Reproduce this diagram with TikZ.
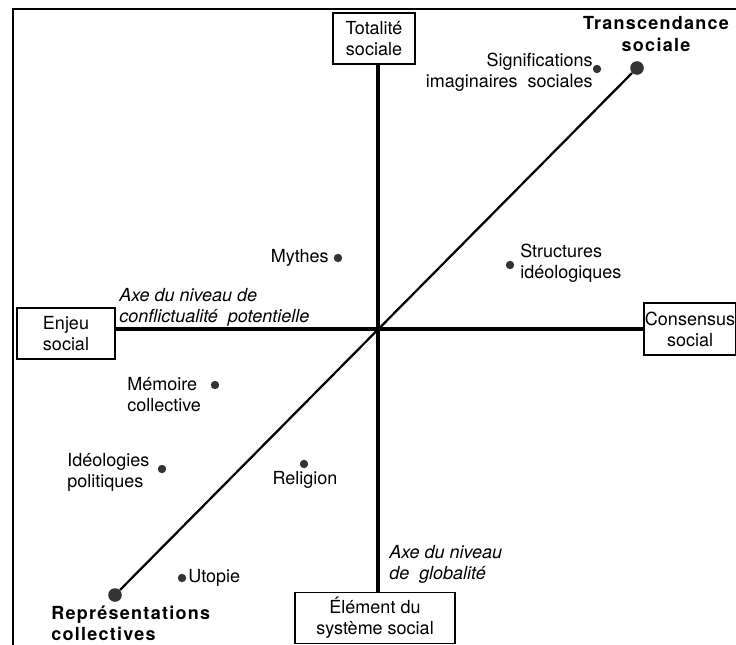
\documentclass[tikz,border=0pt]{standalone}
\usepackage{fontspec}
\setmainfont{TeX Gyre Heros}
\usepackage{tikz}
\usetikzlibrary{calc,positioning}
\newcommand{\txtsize}{\fontsize{12.8}{15}\selectfont}
\newcommand{\spacedbf}{\bfseries\addfontfeature{LetterSpace=7}}

\begin{document}
\begin{tikzpicture}[x=0.025cm,y=-0.025cm,
	boite/.style={draw,line width=1.2pt,align=center,inner sep=0pt,font=\txtsize},
	txt/.style={inner sep=0pt,font=\txtsize},
	axe/.style={line width=2.4pt},
	gros/.style={circle,fill=black!80,inner sep=0pt,minimum size=0.34cm},
	petit/.style={circle,fill=black!80,inner sep=0pt,minimum size=0.21cm}]
		\useasboundingbox (0,0) rectangle (736,644);
		\draw[line width=1.4pt] (13,660) -- (13,9) -- (760,9);
		\node[boite,minimum width=2.05cm,minimum height=1.27cm] (tot) at (374,38.5) {Totalit\'e\\sociale};
		\node[boite,minimum width=2.45cm,minimum height=1.27cm] (enjeu) at (66,333.5) {Enjeu\\social};
		\node[boite,minimum width=2.3cm,minimum height=1.3cm] (cons) at (690,329) {Consensus\\social};
		\node[boite,minimum width=4cm,minimum height=1.27cm] (elem) at (375,618) {\'El\'ement du\\syst\`eme social};
		\coordinate (O) at (378,329);
		\draw[axe] (tot.south -| O) -- (elem.north -| O);
		\draw[axe] (enjeu.east |- O) -- (cons.west |- O);
		\node[gros] (trans) at (637,68) {};
		\node[gros] (rep) at (115,595) {};
		\draw[line width=1.6pt] (rep) -- (trans);
		\node[txt,align=center,font=\txtsize\spacedbf] (transtxt) at (656,34) {Transcendance\\sociale};
		\node[txt,align=left,font=\txtsize\spacedbf,anchor=west] (reptxt) at (51,623) {Repr\'esentations\\collectives};
		\node[petit] (signif) at (597,69) {};
		\node[txt,align=right,anchor=east] (signiftxt) at (593,72) {Significations\\imaginaires\ \ sociales};
		\node[petit] (mythes) at (338,258) {};
		\node[txt,anchor=east] (mythestxt) at (329,258) {Mythes};
		\node[petit] (struct) at (510,265) {};
		\node[txt,align=left,anchor=west] (structtxt) at (520,263) {Structures\\id\'eologiques};
		\node[petit] (memoire) at (215,385) {};
		\node[txt,align=left,anchor=west] (memoiretxt) at (127,395) {M\'emoire\\collective};
		\node[petit] (ideo) at (162,469) {};
		\node[txt,align=left,anchor=west] (ideotxt) at (67,472) {Id\'eologies\\politiques};
		\node[petit] (religion) at (304,464) {};
		\node[txt] (religiontxt) at (305,480) {Religion};
		\node[petit] (utopie) at (182,578) {};
		\node[txt,anchor=west] (utopietxt) at (188,578) {Utopie};
		\node[txt,align=left,anchor=west,font=\txtsize\itshape] (axeconf) at (119,307.5) {Axe du niveau de\\conflictualit\'e\ \ potentielle};
		\node[txt,align=left,anchor=west,font=\txtsize\itshape] (axeglob) at (389,564) {Axe du niveau\\de\ \ globalit\'e};
	\end{tikzpicture}
\end{document}
